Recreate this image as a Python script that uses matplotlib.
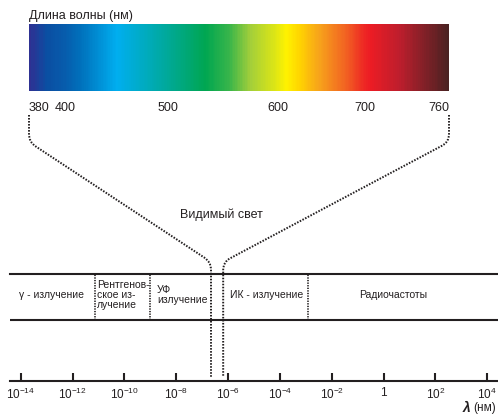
import numpy as np
import matplotlib.pyplot as plt
from matplotlib.colors import LinearSegmentedColormap, Normalize
from matplotlib.path import Path
from matplotlib.patches import PathPatch

plt.rcParams['font.family'] = ['Liberation Sans', 'DejaVu Sans']
plt.rcParams['mathtext.fontset'] = 'custom'
plt.rcParams['mathtext.rm'] = 'Liberation Sans'
plt.rcParams['mathtext.it'] = 'Liberation Sans:italic'
plt.rcParams['mathtext.bf'] = 'Liberation Sans:bold'

# visible spectrum (nm)
spec_ticks = [380, 400, 500, 600, 700, 760]
spec_tick_pos = [29, 65, 168, 278, 365, 449]   # label positions on the drawn bar (uneven, as in the original)
spec_nm = [380, 389, 415, 450, 497, 534, 556, 575, 610, 625, 648, 677, 704, 725, 760]
spec_colors = ['#2e3192', '#0b4ea2', '#0071bc', '#00aeef', '#00a99d', '#00a651', '#39b54a',
               '#a3cf3a', '#fff200', '#ffd400', '#f7a21b', '#f26522', '#ed1c24', '#be1e2d', '#4a2222']

# full scale, log10 of wavelength
lam_exp = [-14, -12, -10, -8, -6, -4, -2, 0, 2, 4]
lam_labels = ['$10^{-14}$', '$10^{-12}$', '$10^{-10}$', '$10^{-8}$', '$10^{-6}$',
              '$10^{-4}$', '$10^{-2}$', '1', '$10^{2}$', '$10^{4}$']
band_bounds = [-11.15, -9.0, -2.9]
visible_exp = [-6.66, -6.19]
band_names = ['γ - излучение', 'Рентгенов-\nское из-\nлучение', 'УФ\nизлучение',
              'ИК - излучение', 'Радиочастоты']
band_x = [-12.8, -11.06, -8.74, -4.53, 0.37]
band_ha = ['center', 'left', 'left', 'center', 'center']

ink = '#231f20'
dots = (0, (0.8, 0.75))
W, H = 498, 416
fig = plt.figure(figsize=(W / 100, H / 100), dpi=100)

# --- spectrum bar
ax1 = fig.add_axes([29 / W, 1 - 91 / H, 420 / W, 67 / H])
fwd = lambda v: np.interp(v, spec_ticks, spec_tick_pos)
inv = lambda v: np.interp(v, spec_tick_pos, spec_ticks)
ax1.set_xscale('function', functions=(fwd, inv))
cmap = LinearSegmentedColormap.from_list(
    'spec', [((n - 380) / 380, c) for n, c in zip(spec_nm, spec_colors)])
xe = np.linspace(380, 760, 600)
ax1.pcolormesh(xe, [0, 1], ((xe[:-1] + xe[1:]) / 2)[None, :], cmap=cmap,
               norm=Normalize(380, 760), shading='flat', rasterized=True)
ax1.set_xlim(380, 760)
ax1.set_ylim(0, 1)
for s in ax1.spines.values():
    s.set_visible(False)
ax1.set_yticks([])
ax1.set_xticks(spec_ticks, [str(t) for t in spec_ticks])
ax1.tick_params(axis='x', length=0, pad=8, labelsize=9, labelcolor=ink)
tl = ax1.get_xticklabels()
tl[0].set_ha('left')
tl[-1].set_ha('right')
ax1.text(0, 1.03, 'Длина волны (нм)', transform=ax1.transAxes, ha='left', va='bottom',
         fontsize=9, color=ink)

# --- log scale with bands
ax2 = fig.add_axes([10 / W, 1 - 381 / H, 488 / W, 107 / H])
ax2.set_xscale('log')
ax2.set_xlim(10 ** -14.42, 10 ** 4.42)
ax2.set_ylim(0, 1)
for k in ['top', 'left', 'right']:
    ax2.spines[k].set_visible(False)
ax2.spines['bottom'].set_linewidth(1.5)
ax2.spines['bottom'].set_color(ink)
ax2.set_yticks([])
ax2.set_xticks([10.0 ** e for e in lam_exp], lam_labels)
ax2.xaxis.set_minor_locator(plt.NullLocator())
ax2.tick_params(axis='x', direction='in', length=6, width=1.5, color=ink,
                pad=4, labelsize=8.5, labelcolor=ink)

band_lo = 0.57
ax2.axhline(1, color=ink, lw=1.5, clip_on=False)
ax2.axhline(band_lo, color=ink, lw=1.5)
ax2.vlines([10.0 ** b for b in band_bounds], band_lo, 1, colors=ink,
           linestyles=dots, lw=1.2)
for name, bx, ha in zip(band_names, band_x, band_ha):
    ax2.text(10.0 ** bx, 0.8, name, ha=ha, va='center', fontsize=7.5, color=ink,
             linespacing=1.0)

ax2.text(0.995, -0.25, '(нм)', transform=ax2.transAxes, ha='right', va='center',
         fontsize=8.5, color=ink)
ax2.text(0.943, -0.25, 'λ', transform=ax2.transAxes, ha='right', va='center',
         fontsize=10, fontweight='bold', fontstyle='italic', color=ink)

fig.text(221 / W, 1 - 215 / H, 'Видимый свет', ha='center', va='center',
         fontsize=9, color=ink)


# --- dotted connectors from the spectrum ends down to the visible window
def to_px(trans, xy):
    fx, fy = fig.transFigure.inverted().transform(trans.transform(xy))
    return np.array([fx * W, (1 - fy) * H])


def corner(p, a, b, r):
    u1 = (a - p) / np.linalg.norm(a - p)
    u2 = (b - p) / np.linalg.norm(b - p)
    return p + r * u1, p, p + r * u2


for nm, e in zip([spec_ticks[0], spec_ticks[-1]], visible_exp):
    top = to_px(ax1.transData, (nm, 0)) + [0, 24]
    bot = to_px(ax2.transData, (10.0 ** e, 0.04))
    k1 = np.array([top[0], 142.0])
    k2 = np.array([bot[0], 262.0])
    a1, c1, b1 = corner(k1, top, k2, 8)
    a2, c2, b2 = corner(k2, k1, bot, 8)
    pts = [top, a1, c1, b1, a2, c2, b2, bot]
    codes = [Path.MOVETO, Path.LINETO, Path.CURVE3, Path.CURVE3,
             Path.LINETO, Path.CURVE3, Path.CURVE3, Path.LINETO]
    verts = [(p[0] / W, 1 - p[1] / H) for p in pts]
    fig.patches.append(PathPatch(Path(verts, codes), fill=False, edgecolor=ink,
                                 lw=1.4, linestyle=dots,
                                 transform=fig.transFigure))

fig.savefig('out.png', dpi=100)
